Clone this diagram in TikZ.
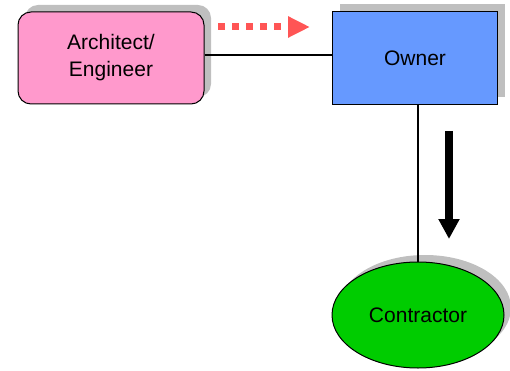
\documentclass[tikz,border=0pt]{standalone}
\usepackage{fontspec}
\setmainfont{Liberation Sans}
\usetikzlibrary{shapes,arrows.meta,shadows}
\usetikzlibrary{positioning}
\tikzstyle{party} = [draw, line width=1pt, inner sep=0pt, align=center,
    font=\fontsize{21}{27}\selectfont,
    drop shadow={shadow xshift=7pt, shadow yshift=7pt, fill=black!25, opacity=1}]
\tikzstyle{link} = [line width=2pt]
\definecolor{archpink}{HTML}{FF99CC}
\definecolor{ownerblue}{HTML}{6699FF}
\definecolor{contrgreen}{HTML}{00CC00}
\definecolor{hintred}{HTML}{FF5555}

\begin{document}
\begin{tikzpicture}[x=1pt, y=-1pt]
    \useasboundingbox (0,0) rectangle (510,371);

    \node[party, rounded corners=13pt, fill=archpink,
          minimum width=186pt, minimum height=92pt] at (111,58) (arch) {Architect/\\Engineer};
    \node[party, rectangle, fill=ownerblue,
          minimum width=165pt, minimum height=93pt] at (415,58) (owner) {Owner};
    \node[party, ellipse, fill=contrgreen,
          minimum width=172pt, minimum height=106pt] at (418,315) (contr) {Contractor};

    \draw[link] (arch.east |- 0,55) -- (owner.west |- 0,55);
    \draw[link] (owner.south -| contr.north) -- (contr.north);

    % advice goes from architect to owner
    \coordinate (hintstart) at (218,27);
    \coordinate (hintend) at (310,27);
    \draw[hintred, line width=7pt, dash pattern=on 7pt off 7pt,
          -{Triangle[length=22pt,width=20pt]}] (hintstart) -- (hintend);

    % contract goes down to contractor
    \coordinate (ordstart) at (449,131);
    \coordinate (ordend) at (449,239);
    \draw[line width=8pt, -{Triangle[length=20pt,width=20pt]}] (ordstart) -- (ordend);
\end{tikzpicture}
\end{document}
